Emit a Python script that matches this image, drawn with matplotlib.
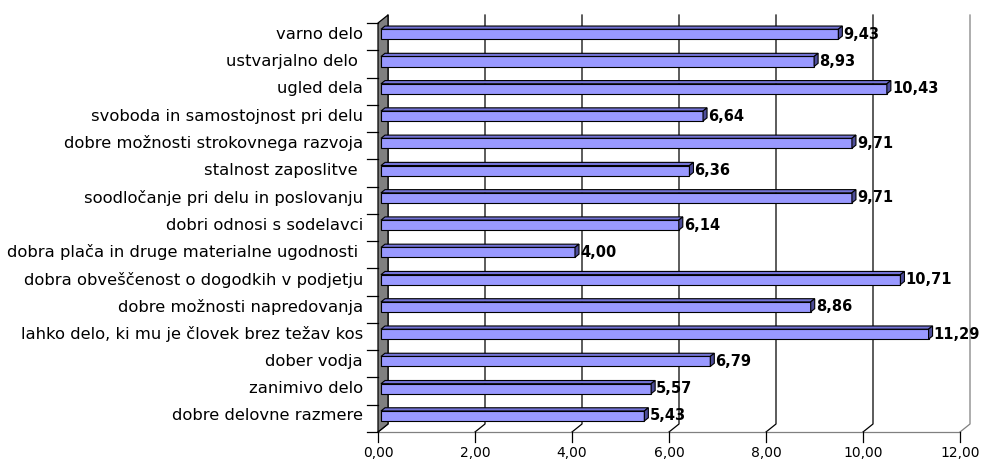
import numpy as np
import matplotlib
matplotlib.use("Agg")
import matplotlib.pyplot as plt
from matplotlib.patches import Polygon

plt.rcParams['font.family'] = ['DejaVu Sans']

categories = [
    "varno delo",
    "ustvarjalno delo ",
    "ugled dela",
    "svoboda in samostojnost pri delu",
    "dobre možnosti strokovnega razvoja",
    "stalnost zaposlitve ",
    "soodločanje pri delu in poslovanju",
    "dobri odnosi s sodelavci",
    "dobra plača in druge materialne ugodnosti ",
    "dobra obveščenost o dogodkih v podjetju",
    "dobre možnosti napredovanja",
    "lahko delo, ki mu je človek brez težav kos",
    "dober vodja",
    "zanimivo delo",
    "dobre delovne razmere",
]
values = [9.43, 8.93, 10.43, 6.64, 9.71, 6.36, 9.71, 6.14, 4.00,
          10.71, 8.86, 11.29, 6.79, 5.57, 5.43]
xticks = [0, 2, 4, 6, 8, 10, 12]

W, H = 982, 461
fig = plt.figure(figsize=(W / 100, H / 100), dpi=100)
# front plane: x 378..960 px, y 23..432 px (from top)
ax = fig.add_axes([378 / W, (H - 432) / H, (960 - 378) / W, (432 - 23) / H])
n = len(categories)
ax.set_xlim(0, 12)
ax.set_ylim(-0.5, n - 0.5)
ax.axis('off')

pxx = 12 / (960 - 378)          # data units per px, x
pxy = n / (432 - 23)            # data units per px, y
DX, DY = 10 * pxx, 8 * pxy      # depth offset of back wall

# back wall gridlines + floor diagonals
for k in xticks:
    col = '#808080' if k == 12 else 'black'
    ax.plot([k, k + DX, k + DX], [-0.5, -0.5 + DY, n - 0.5 + DY],
            color=col, lw=0.9, clip_on=False, zorder=1)
# floor line and ticks
ax.plot([0, 12], [-0.5, -0.5], color='#808080', lw=0.9, clip_on=False, zorder=1)
for k in xticks:
    ax.plot([k, k], [-0.5, -0.5 - 10 * pxy], color='black', lw=0.9, clip_on=False)
    ax.text(k, -0.5 - 25 * pxy, ('%.2f' % k).replace('.', ','), ha='center',
            va='baseline', fontsize=10)

# left wall
wall = Polygon([(0, -0.5), (DX, -0.5 + DY), (DX, n - 0.5 + DY), (0, n - 0.5)],
               closed=True, facecolor='#808080', edgecolor='black', lw=0.9,
               clip_on=False, zorder=2)
ax.add_patch(wall)

# category ticks and labels
for i in range(n + 1):
    yb = i - 0.5
    ax.plot([-11 * pxx, 0], [yb, yb], color='black', lw=0.9, clip_on=False)

a, b = 0.3, 0.7
h = 10 * pxy
ypos = np.arange(n)[::-1]
for y, lab in zip(ypos, categories):
    ax.text(-15 * pxx, y + a * DY, lab, ha='right', va='center', fontsize=11.8)

# 3D bars
ax.barh(ypos + a * DY, values, left=a * DX, height=h, color='#9999FF',
        edgecolor='black', lw=0.8, zorder=3, clip_on=False)
for y, v in zip(ypos, values):
    yt = y + h / 2
    yb = y - h / 2
    top = Polygon([(a * DX, yt + a * DY), (v + a * DX, yt + a * DY),
                   (v + b * DX, yt + b * DY), (b * DX, yt + b * DY)],
                  closed=True, facecolor='#7373D6', edgecolor='black', lw=0.8,
                  zorder=3, clip_on=False)
    side = Polygon([(v + a * DX, yb + a * DY), (v + a * DX, yt + a * DY),
                    (v + b * DX, yt + b * DY), (v + b * DX, yb + b * DY)],
                   closed=True, facecolor='#4D4D99', edgecolor='black', lw=0.8,
                   zorder=3, clip_on=False)
    ax.add_patch(top)
    ax.add_patch(side)
    ax.text(v + b * DX + 1 * pxx, y + a * DY, ('%.2f' % v).replace('.', ','),
            ha='left', va='center', fontsize=10.5, fontweight='bold', zorder=4)

fig.savefig('out.png', dpi=100)
